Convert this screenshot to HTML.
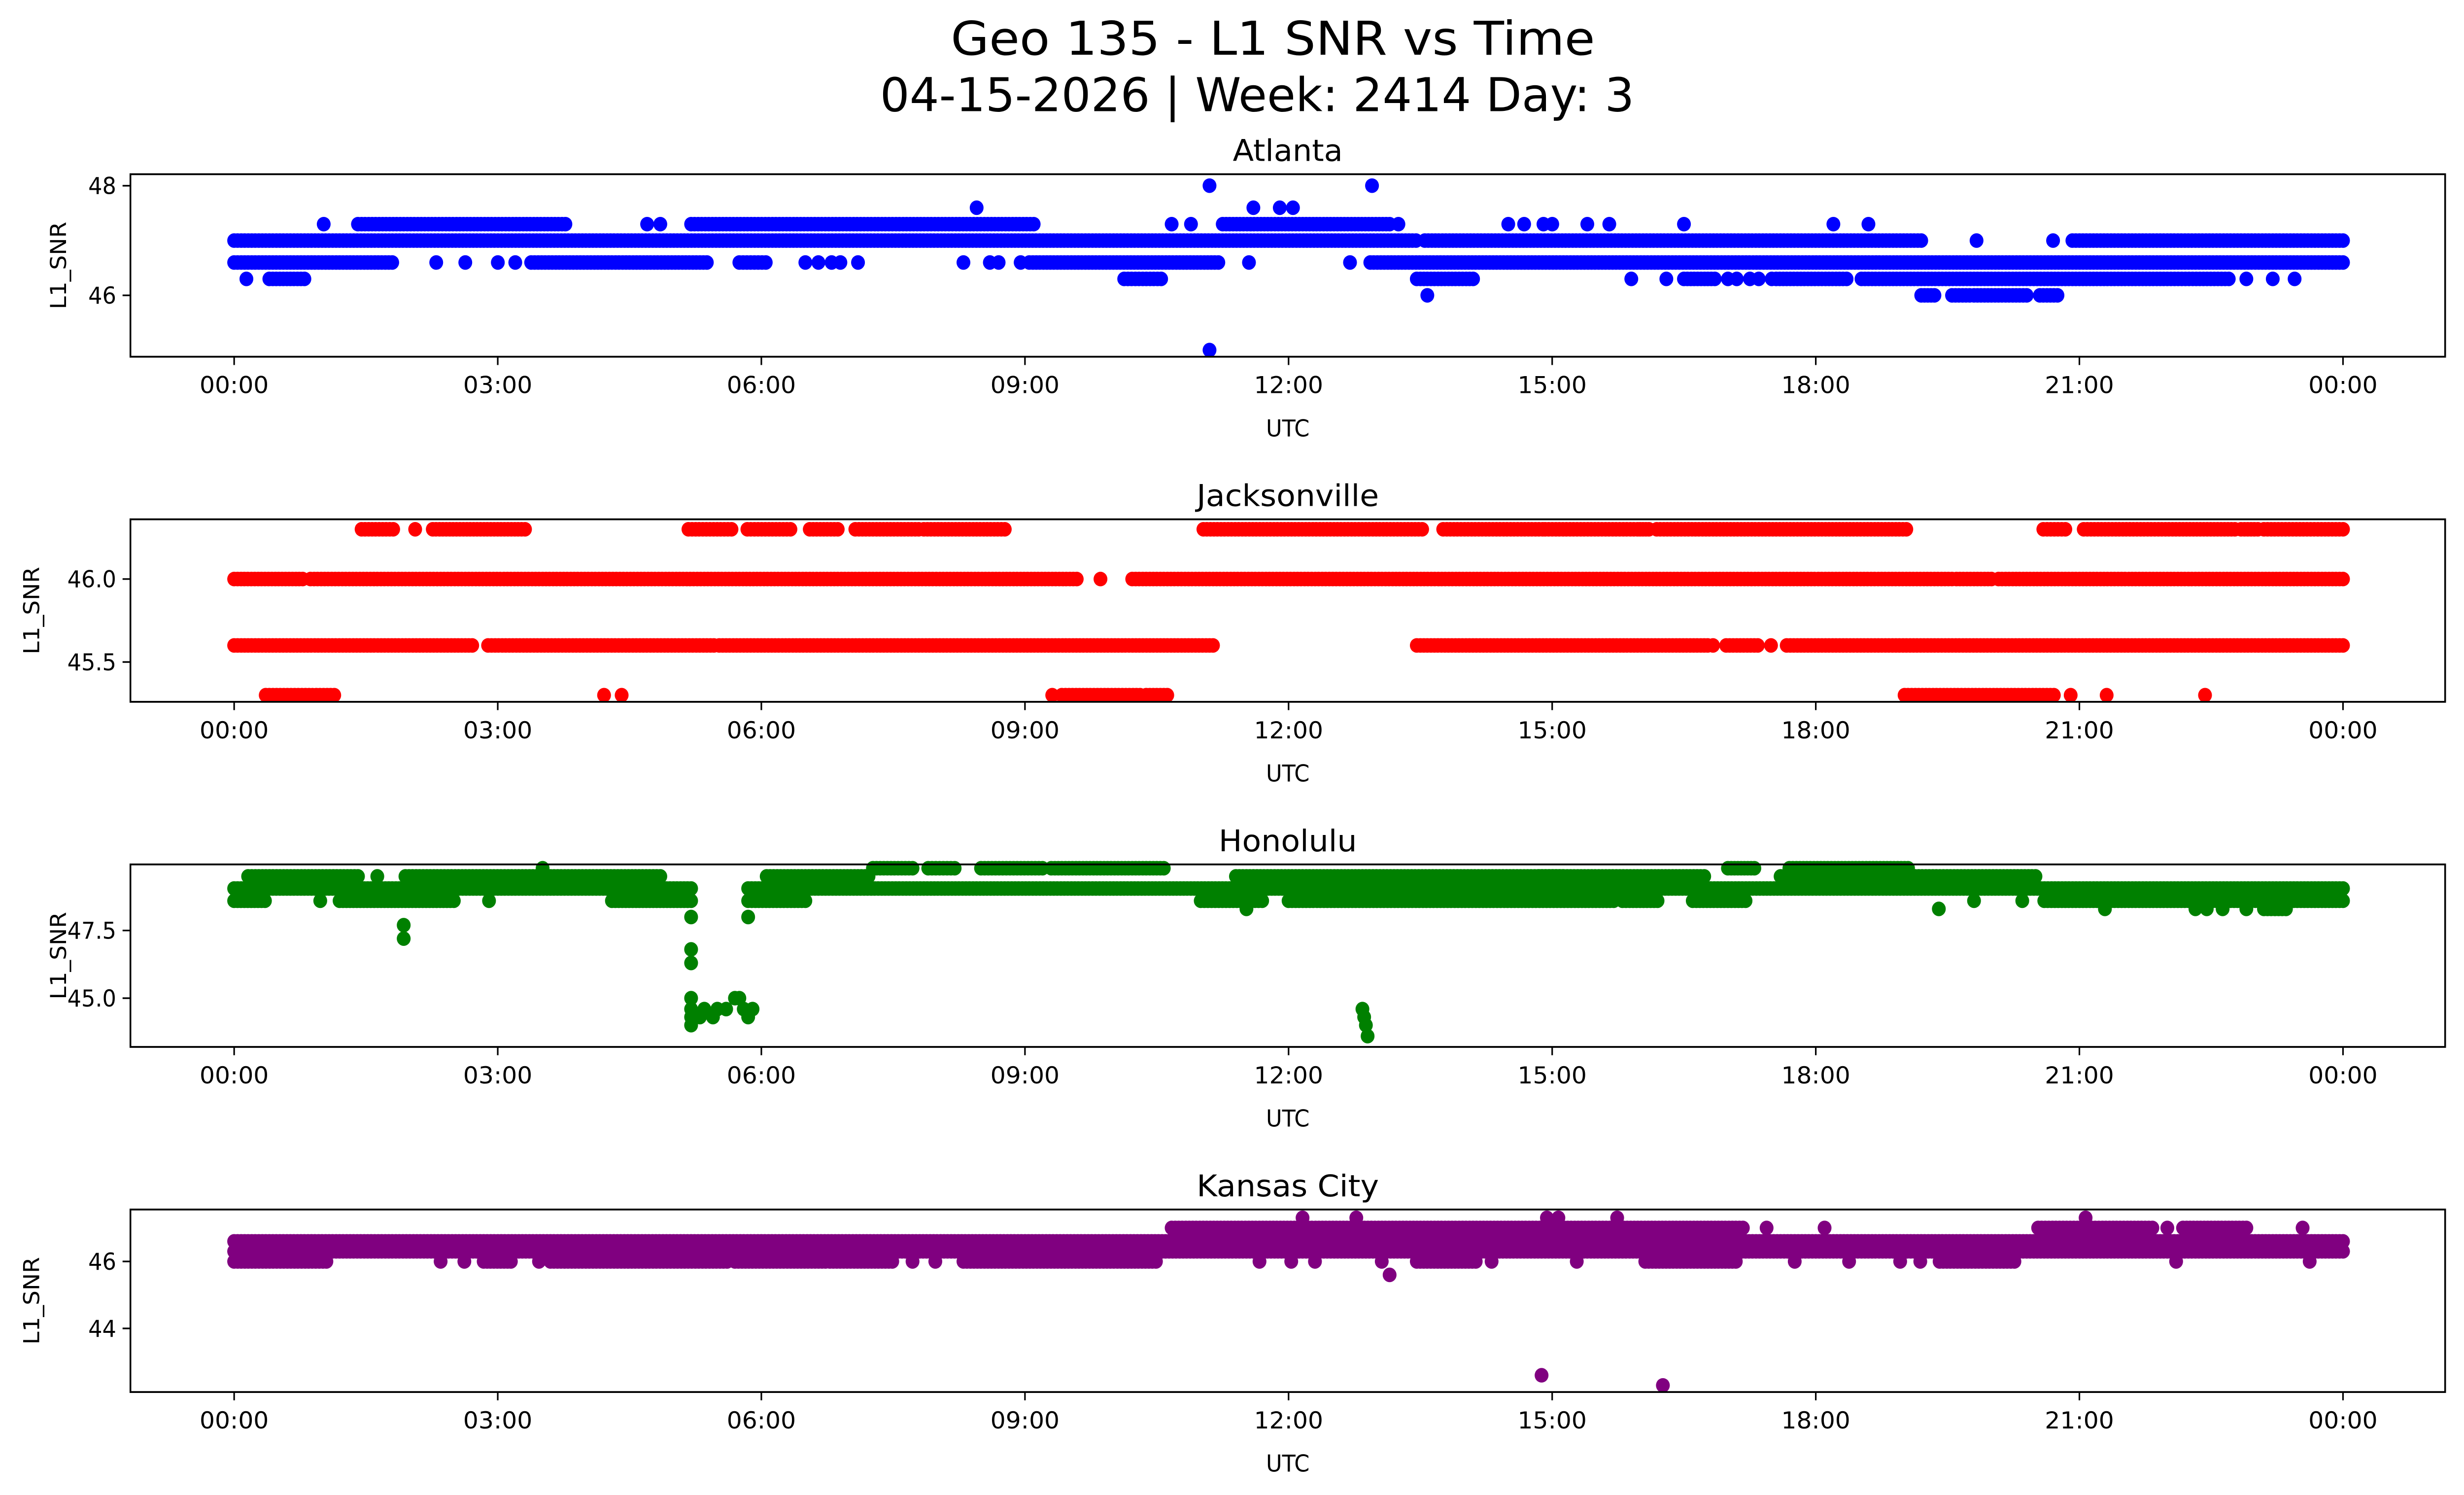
<!DOCTYPE html>
<html><head><meta charset="utf-8"><style>
html,body{margin:0;padding:0;background:#fff;overflow:hidden;width:100%;height:100%;}
svg{display:block;width:100vw;height:100vh;font-family:"DejaVu Sans","Liberation Sans",sans-serif;}
</style></head><body>
<svg id="fig" viewBox="0 0 1568 901.06" preserveAspectRatio="none" xmlns="http://www.w3.org/2000/svg">
<rect width="1568" height="902" fill="#fff"/>
<text x="810" y="33" font-size="28" text-anchor="middle" textLength="410" lengthAdjust="spacingAndGlyphs">Geo 135 - L1 SNR vs Time</text>
<text x="800" y="67" font-size="28" text-anchor="middle" textLength="480" lengthAdjust="spacingAndGlyphs">04-15-2026 | Week: 2414 Day: 3</text>
<g id="panels"></g>
</svg>
<script>
// ---------- data (hours UTC, SNR dB-Hz) ----------
const xTickLabels = ["00:00","03:00","06:00","09:00","12:00","15:00","18:00","21:00","00:00"];
const stations = ["Atlanta","Jacksonville","Honolulu","Kansas City"];
const colors = ["#0000ff","#ff0000","#008000","#800080"];

// Atlanta
const atlTicks = [46, 48];
const atlRunLevel = [47.0,47.0,47.0,47.3,47.3,47.3,46.6,46.6,46.6,46.6,46.6,46.3,46.3,46.3,46.3,46.3,46.3,46.3,46.0,46.0,46.0,46.0];
const atlRunStart = [0,13.55,20.92,1.41,5.2,11.25,0,3.38,9.05,12.93,5.75,0.4,10.13,13.46,17.55,18.52,22.0,16.5,19.2,19.55,19.8,20.55];
const atlRunEnd   = [13.45,19.2,24,3.77,9.1,13.15,1.8,5.38,11.2,24,6.05,0.8,10.55,14.1,18.35,21.96,22.7,16.85,19.35,19.75,20.4,20.75];
const atlPtTime  = [19.83,20.7,1.02,4.7,4.85,10.67,10.89,13.25,14.5,14.68,14.9,15.0,15.4,15.65,16.5,18.2,18.6,8.45,11.6,11.9,12.05,11.1,12.95,11.1,2.3,2.63,3.0,3.2,6.5,6.65,6.8,6.9,7.1,8.3,8.6,8.7,8.95,11.55,12.7,0.14,15.9,16.3,17.0,17.1,17.25,17.35,17.5,22.9,23.2,23.45,13.58];
const atlPtValue = [47.0,47.0,47.3,47.3,47.3,47.3,47.3,47.3,47.3,47.3,47.3,47.3,47.3,47.3,47.3,47.3,47.3,47.6,47.6,47.6,47.6,48.0,48.0,45.0,46.6,46.6,46.6,46.6,46.6,46.6,46.6,46.6,46.6,46.6,46.6,46.6,46.6,46.6,46.6,46.3,46.3,46.3,46.3,46.3,46.3,46.3,46.3,46.3,46.3,46.3,46.0];

// Jacksonville
const jaxTicks = [45.5, 46.0];
const jaxRunLevel = [46.3,46.3,46.3,46.3,46.3,46.3,46.3,46.3,46.3,46.3,46.3,46.3,46.3,46.3,46.3,46.3,46.3,46.3,46.0,46.0,46.0,46.0,46.0,45.6,45.6,45.6,45.6,45.6,45.6,45.3,45.3,45.3,45.3];
const jaxRunStart = [1.45,2.26,2.57,5.17,5.84,6.55,7.07,7.85,11.03,13.76,14.92,16.19,20.59,21.05,22.18,22.84,23.1,16.0,0,0.87,10.22,19.6,20.08,0,2.89,5.52,13.46,16.98,17.67,0.36,9.42,10.38,19.01];
const jaxRunEnd   = [1.81,2.53,3.31,5.66,6.33,6.87,7.79,8.77,13.52,14.89,15.97,19.03,20.84,22.14,22.77,23.03,24.0,16.1,0.78,9.59,19.55,20.0,24,2.71,5.46,11.14,16.77,17.34,24,1.14,10.31,10.62,20.71];
const jaxPtTime  = [2.06,9.86,16.83,17.49,4.21,4.41,9.31,20.9,21.31,22.43];
const jaxPtValue = [46.3,46.0,45.6,45.6,45.3,45.3,45.3,45.3,45.3,45.3];

// Honolulu
const honTicks = [45.0, 47.5];
const honRunLevel = [49.05,49.05,48.6,48.6,48.6,48.6,48.6,48.6,48.6,48.6,48.6,49.5,49.5,49.5,49.5,49.5,49.5,49.8,49.8,49.8,49.8,49.8,49.8,48.3];
const honRunStart = [0,5.85,0,1.2,4.3,5.85,11.0,12.0,15.8,16.6,20.6,0.16,1.95,6.06,11.4,14.85,17.6,7.27,7.9,8.5,9.3,17.0,17.7,23.1];
const honRunEnd   = [5.2,24,0.35,2.5,5.2,6.5,11.7,15.7,16.2,17.2,24,1.41,4.85,7.22,15.12,16.73,20.5,7.72,8.2,9.2,10.58,17.3,19.05,23.35];
const honPtTime  = [0.98,2.9,19.8,20.35,1.63,3.51,11.52,21.29,22.32,22.45,22.63,22.9,19.4,1.93,1.93,5.2,5.2,5.2,5.2,5.2,5.2,5.2,5.3,5.35,5.45,5.5,5.6,5.7,5.75,5.8,5.85,5.9,5.85,12.84,12.86,12.88,12.9];
const honPtValue = [48.6,48.6,48.6,48.6,49.5,49.8,48.3,48.3,48.3,48.3,48.3,48.3,48.3,47.7,47.2,48.0,46.8,46.3,45.0,44.6,44.3,44.0,44.3,44.6,44.3,44.6,44.6,45.0,45.0,44.6,44.3,44.6,48.0,44.6,44.3,44.0,43.6];

// Kansas City
const kcTicks = [44, 46];
const kcRunLevel = [46.6,46.3,46.0,46.0,46.0,46.0,46.0,46.0,46.0,46.0,46.0,47.0,47.0,47.0];
const kcRunStart = [0,0,0,2.84,3.6,5.7,6.78,8.3,13.46,16.06,19.41,10.67,20.53,22.18];
const kcRunEnd   = [24,24,1.05,3.15,5.61,6.73,7.49,10.49,14.13,17.09,20.26,17.17,21.83,22.9];
const kcPtTime  = [2.35,2.62,3.47,7.72,7.98,11.67,12.03,12.3,13.06,14.31,15.28,17.76,18.38,18.96,19.19,22.1,23.62,17.44,18.1,22.0,23.54,12.16,12.77,14.94,15.07,15.74,21.07,13.15,14.88,16.26];
const kcPtValue = [46.0,46.0,46.0,46.0,46.0,46.0,46.0,46.0,46.0,46.0,46.0,46.0,46.0,46.0,46.0,46.0,46.0,47.0,47.0,47.0,47.0,47.3,47.3,47.3,47.3,47.3,47.3,45.6,42.6,42.3];

// ---------- layout ----------
const NS = "http://www.w3.org/2000/svg";
const axL = 83, axR = 1556, axH = 110;
const axTops = [105, 313, 521, 729];
const yDomains = [[44.88,48.21],[45.26,46.36],[43.2,49.94],[42.1,47.55]];
const runsLevel = [atlRunLevel,jaxRunLevel,honRunLevel,kcRunLevel];
const runsStart = [atlRunStart,jaxRunStart,honRunStart,kcRunStart];
const runsEnd = [atlRunEnd,jaxRunEnd,honRunEnd,kcRunEnd];
const ptsT = [atlPtTime,jaxPtTime,honPtTime,kcPtTime];
const ptsV = [atlPtValue,jaxPtValue,honPtValue,kcPtValue];
const ticksY = [atlTicks,jaxTicks,honTicks,kcTicks];
const tickFmt = [v=>v.toFixed(0), v=>v.toFixed(1), v=>v.toFixed(1), v=>v.toFixed(0)];
const slugs = ["atlanta","jacksonville","honolulu","kansas-city"];
const titleLen = [70, 116, 88, 116];

const xScale = h => 149 + h * (1491 - 149) / 24;
const root = document.getElementById("panels");
function mk(tag, attrs, parent) {
  const e = document.createElementNS(NS, tag);
  for (const k in attrs) e.setAttribute(k, attrs[k]);
  parent.appendChild(e);
  return e;
}

stations.forEach((name, i) => {
  const top = axTops[i], bot = top + axH;
  const [d0, d1] = yDomains[i];
  const yScale = v => bot - (v - d0) / (d1 - d0) * axH;
  const g = mk("g", {}, root);
  
  

  const title = mk("text", {x: (axL+axR)/2, y: top - 8, "font-size": 18, "text-anchor": "middle", textLength: titleLen[i], lengthAdjust: "spacingAndGlyphs"}, g);
  title.textContent = name;
  
  

  const pts = mk("g", {fill: colors[i]}, g);
  
  
  const dot = (t, v) => {
    const c = mk("circle", {cx: xScale(t).toFixed(1), cy: yScale(v).toFixed(1), r: 4.4}, pts);
    
    
  };
  const L = runsLevel[i], S = runsStart[i], E = runsEnd[i];
  for (let k = 0; k < L.length; k++) {
    const n = Math.max(1, Math.round((E[k] - S[k]) / 0.04));
    for (let j = 0; j <= n; j++) dot(S[k] + (E[k] - S[k]) * j / n, L[k]);
  }
  ptsT[i].forEach((t, k) => dot(t, ptsV[i][k]));

  const frame = mk("rect", {x: axL, y: top, width: axR-axL, height: axH, fill: "none", stroke: "#000", "stroke-width": 1.1}, g);
  
  

  xTickLabels.forEach((lab, k) => {
    const x = xScale(k * 3);
    const tk = mk("line", {x1: x, x2: x, y1: bot, y2: bot + 5, stroke: "#000", "stroke-width": 1}, g);
    
    
    const tl = mk("text", {x: x, y: bot + 22, "font-size": 14, "text-anchor": "middle", textLength: 44, lengthAdjust: "spacingAndGlyphs"}, g);
    tl.textContent = lab;
    
    
  });
  const xl = mk("text", {x: (axL+axR)/2, y: bot + 48, "font-size": 14, "text-anchor": "middle"}, g);
  xl.textContent = "UTC";
  
  

  ticksY[i].forEach(v => {
    const y = yScale(v);
    const tk = mk("line", {x1: axL - 5, x2: axL, y1: y, y2: y, stroke: "#000", "stroke-width": 1}, g);
    
    
    const tl = mk("text", {x: axL - 9, y: y + 5, "font-size": 14, "text-anchor": "end"}, g);
    tl.textContent = tickFmt[i](v);
    
    
  });
  const cy = top + axH / 2;
  const yl = mk("text", {x: 0, y: 0, "font-size": 14, "text-anchor": "middle", transform: `translate(${i===1||i===3?25:42},${cy}) rotate(-90)`}, g);
  yl.textContent = "L1_SNR";
  
  
});
</script>
</body></html>
